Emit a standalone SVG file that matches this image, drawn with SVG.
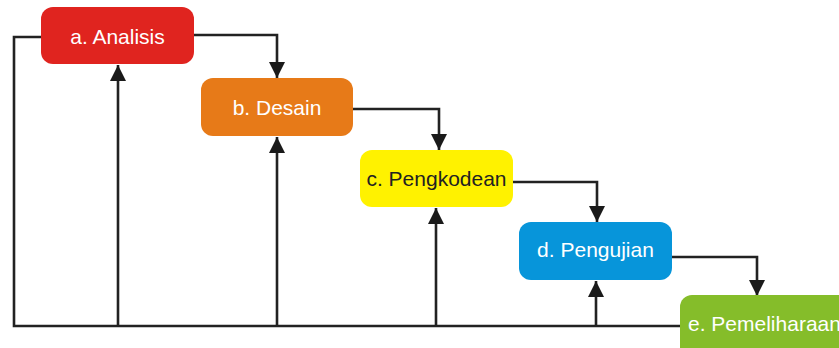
<svg xmlns="http://www.w3.org/2000/svg" width="839" height="348" viewBox="0 0 839 348">
<style>
.box{stroke:none}
.lbl{font-family:"Liberation Sans",Arial,sans-serif;font-size:21px;text-anchor:middle;fill:#ffffff}
.conn{fill:none;stroke:#222222;stroke-width:2.6}
</style>
<defs>
<marker id="arr" markerUnits="userSpaceOnUse" markerWidth="17" markerHeight="16" refX="16" refY="8" orient="auto">
<path d="M0,0 L16,8 L0,16 Z" fill="#1a1a1a"/>
</marker>
</defs>
<rect width="839" height="348" fill="#ffffff"/>
<g id="connectors">
<path class="conn" d="M680,326 H14 V37 H41"/>
<path class="conn" d="M118,326 V65" marker-end="url(#arr)"/>
<path class="conn" d="M277,326 V137" marker-end="url(#arr)"/>
<path class="conn" d="M436,326 V208" marker-end="url(#arr)"/>
<path class="conn" d="M596,326 V281" marker-end="url(#arr)"/>
<path class="conn" d="M194,35 H277 V78" marker-end="url(#arr)"/>
<path class="conn" d="M353,109 H439 V150" marker-end="url(#arr)"/>
<path class="conn" d="M513,182 H597 V222" marker-end="url(#arr)"/>
<path class="conn" d="M672,257 H757 V296" marker-end="url(#arr)"/>
</g>
<g id="node-a">
<rect class="box" x="41" y="7" width="153" height="57" rx="12" fill="#e0241f"/>
<text class="lbl" x="117.5" y="44">a. Analisis</text>
</g>
<g id="node-b">
<rect class="box" x="201" y="78" width="152" height="58" rx="12" fill="#e77a18"/>
<text class="lbl" x="277" y="115">b. Desain</text>
</g>
<g id="node-c">
<rect class="box" x="360" y="150" width="153" height="57" rx="12" fill="#fff200"/>
<text class="lbl" x="436.5" y="186" style="fill:#222222">c. Pengkodean</text>
</g>
<g id="node-d">
<rect class="box" x="519" y="222" width="153" height="58" rx="12" fill="#0795da"/>
<text class="lbl" x="595.5" y="257">d. Pengujian</text>
</g>
<g id="node-e">
<rect class="box" x="680" y="295" width="175" height="70" rx="12" fill="#85bd2a"/>
<text class="lbl" x="688" y="331" style="text-anchor:start">e. Pemeliharaan</text>
</g>
</svg>
